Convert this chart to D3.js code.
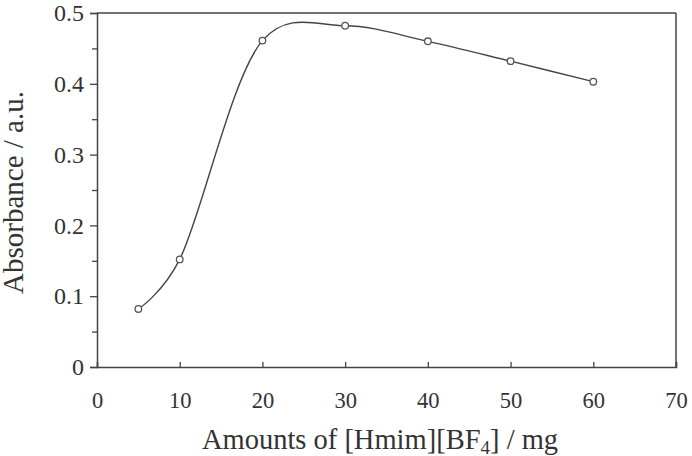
<!DOCTYPE html>
<html>
<head>
<meta charset="utf-8">
<script src="https://cdn.jsdelivr.net/npm/d3@7"></script>
<style>
  body { margin: 0; background: #fff; }
</style>
</head>
<body>
<div id="chart"></div>
<script>
const amounts = [5, 10, 20, 30, 40, 50, 60];
const absorbance = [0.082, 0.152, 0.461, 0.482, 0.460, 0.432, 0.403];
const xTicks = [0, 10, 20, 30, 40, 50, 60, 70];
const yTicks = [0, 0.1, 0.2, 0.3, 0.4, 0.5];
const yMinorTicks = [0.05, 0.15, 0.25, 0.35, 0.45];

const width = 692, height = 456;
const margin = { top: 13, right: 16, bottom: 89, left: 97 };
const innerWidth = width - margin.left - margin.right;
const innerHeight = height - margin.top - margin.bottom;
const font = '"Liberation Serif", "Times New Roman", serif';

const x = d3.scaleLinear().domain([0, 70]).range([0, innerWidth]);
const y = d3.scaleLinear().domain([0, 0.5]).range([innerHeight, 0]);

const svg = d3.select('#chart').append('svg').attr('width', width).attr('height', height)
    .attr('font-family', font);
const chart = svg.append('g').attr('transform', `translate(${margin.left},${margin.top})`);

const axisColor = '#444';

// frame top and right
chart.append('line').attr('x1', 0).attr('x2', innerWidth).attr('y1', 0).attr('y2', 0)
    .attr('stroke', axisColor).attr('stroke-width', 1.5);
chart.append('line').attr('x1', innerWidth).attr('x2', innerWidth).attr('y1', 0).attr('y2', innerHeight)
    .attr('stroke', axisColor).attr('stroke-width', 1.5);

const xAxis = d3.axisBottom(x).tickValues(xTicks).tickSize(-5).tickPadding(25).tickFormat(d3.format('d'));
const yAxis = d3.axisLeft(y).tickValues(yTicks).tickSize(7).tickPadding(6).tickFormat(d => d === 0 ? '0' : d3.format('.1f')(d));

const gx = chart.append('g').attr('transform', `translate(0,${innerHeight})`).call(xAxis)
    .attr('font-family', font).attr('font-size', 22.5);
const gy = chart.append('g').call(yAxis)
    .attr('font-family', font).attr('font-size', 24);
chart.append('g').call(d3.axisLeft(y).tickValues(yMinorTicks).tickSize(5).tickFormat(''))
    .call(g => g.select('.domain').remove());

chart.selectAll('.domain').attr('stroke', axisColor).attr('stroke-width', 1.5);
chart.selectAll('.tick line').attr('stroke', axisColor).attr('stroke-width', 1.3);
chart.selectAll('.tick text').attr('fill', '#333');

const line = d3.line()
    .x((d, i) => x(amounts[i]))
    .y(d => y(d))
    .curve(d3.curveCatmullRom.alpha(0.2));

chart.append('path').datum(absorbance)
    .attr('d', line).attr('fill', 'none').attr('stroke', '#444').attr('stroke-width', 1.4);

chart.selectAll('.pt').data(absorbance).enter().append('circle')
    .attr('class', 'pt')
    .attr('cx', (d, i) => x(amounts[i]))
    .attr('cy', d => y(d))
    .attr('r', 3.3)
    .attr('fill', '#fff').attr('stroke', '#555').attr('stroke-width', 1.3);

// axis titles
const xt = svg.append('text')
    .attr('x', 380)
    .attr('y', 449)
    .attr('text-anchor', 'middle')
    .attr('fill', '#333')
    .attr('font-size', 28.5);
xt.append('tspan').text('Amounts of [Hmim][BF');
xt.append('tspan').text('4').attr('font-size', 19).attr('dy', 5);
xt.append('tspan').text('] / mg').attr('dy', -5);

svg.append('text')
    .attr('transform', 'translate(23,192.5) rotate(-90)')
    .attr('text-anchor', 'middle')
    .attr('fill', '#333')
    .attr('font-size', 29)
    .text('Absorbance / a.u.');
</script>
</body>
</html>
